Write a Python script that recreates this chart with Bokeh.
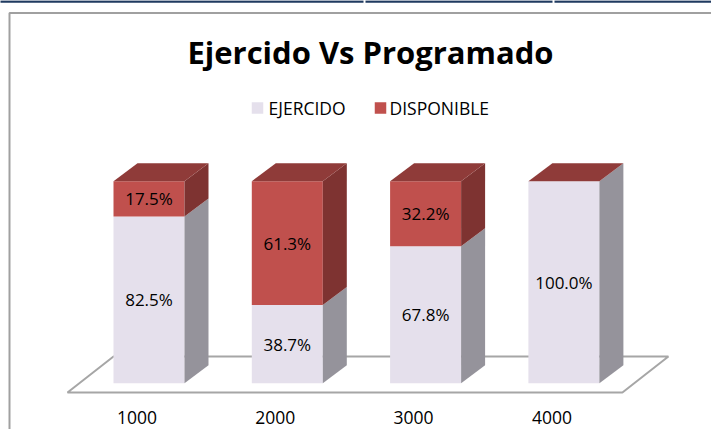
from bokeh.plotting import figure
from bokeh.models import Range1d
from bokeh.core.properties import value
from bokeh.embed import file_html
from bokeh.resources import INLINE

# ---- data ----
categories = ["1000", "2000", "3000", "4000"]
ejercido = [82.5, 38.7, 67.8, 100.0]
disponible = [17.5, 61.3, 32.2, 0.0]
series_names = ["EJERCIDO", "DISPONIBLE"]
title_text = "Ejercido Vs Programado"

# ---- styling / geometry ----
W, H = 711, 429
KX, KY = 138.3, 2.02          # px per category unit, px per percent
X0 = -148.5 / KX              # data x at left canvas edge
Y0 = -(H - 382.7) / KY        # data y at bottom canvas edge
FONT = "Open Sans"

C_EJ_FRONT, C_EJ_SIDE = "#E5E0EC", "#95939B"
C_DI_FRONT, C_DI_SIDE, C_DI_TOP = "#C0504D", "#7E3331", "#8F3B39"

def dx(px):  # canvas px (from left) -> data x
    return X0 + px / KX

def dy(py):  # canvas px (from top) -> data y
    return Y0 + (H - py) / KY

HALF = 35.5 / KX
DEPTH_X, DEPTH_Y = 24 / KX, 18 / KY

p = figure(width=W, height=H, output_backend="svg", toolbar_location=None,
           x_range=Range1d(X0, X0 + W / KX), y_range=Range1d(Y0, Y0 + H / KY),
           min_border=0, background_fill_color="white", border_fill_color="white")
p.axis.visible = False
p.grid.visible = False
p.outline_line_color = None

# page rule segments at top
for (a, b) in [(-5, 363), (365, 552), (554, W + 5)]:
    p.line([dx(a), dx(b)], [dy(1)] * 2, line_color="#1F3A60", line_width=2.5)

# chart border (left and top edges)
p.line([dx(9), dx(9), dx(W + 5)], [dy(H + 5), dy(12.5), dy(12.5)], line_color="#A0A0A0", line_width=2)

# floor
n = len(categories)
fy_front = -9.3 / KY
fy_back = fy_front + 36 / KY
fx_l = -81.5 / KX
fx_r = (n - 1) + 58.5 / KX
fdx = 46 / KX
p.patch([fx_l, fx_r, fx_r + fdx, fx_l + fdx], [fy_front, fy_front, fy_back, fy_back],
        fill_color="white", line_color="#A6A6A6", line_width=2)

# bars
xs_f, ys_f, cols_f = [], [], []
for i in range(n):
    segs = [(0, ejercido[i], C_EJ_FRONT, C_EJ_SIDE),
            (ejercido[i], ejercido[i] + disponible[i], C_DI_FRONT, C_DI_SIDE)]
    l, r = i - HALF, i + HALF
    for (b, t, cf, cs) in segs:
        if t - b <= 0:
            continue
        xs_f.append([l, r, r, l]); ys_f.append([b, b, t, t]); cols_f.append(cf)
        xs_f.append([r, r + DEPTH_X, r + DEPTH_X, r]); ys_f.append([b, b + DEPTH_Y, t + DEPTH_Y, t]); cols_f.append(cs)
    top = ejercido[i] + disponible[i]
    xs_f.append([l, r, r + DEPTH_X, l + DEPTH_X]); ys_f.append([top, top, top + DEPTH_Y, top + DEPTH_Y]); cols_f.append(C_DI_TOP)
p.patches(xs_f, ys_f, fill_color=cols_f, line_color=None)

# data labels
lx, ly, lt = [], [], []
for i in range(n):
    if ejercido[i] > 0:
        lx.append(i); ly.append(ejercido[i] / 2); lt.append(f"{ejercido[i]:.1f}%")
    if disponible[i] > 0:
        lx.append(i); ly.append(ejercido[i] + disponible[i] / 2); lt.append(f"{disponible[i]:.1f}%")
p.text(lx, ly, text=lt, text_align="center", text_baseline="middle",
       text_font=value(FONT), text_font_size="17px", text_color="black")

# category labels
p.text([i - 12 / KX for i in range(n)], [dy(416.5)] * n, text=categories,
       text_align="center", text_baseline="middle",
       text_font=value(FONT), text_font_size="17.5px", text_color="black")

# title
p.text([dx(370)], [dy(51.7)], text=[title_text], text_align="center", text_baseline="middle",
       text_font=value(FONT), text_font_size="31px", text_font_style="bold", text_color="black")

# legend
p.scatter([dx(257), dx(380)], [dy(107.5)] * 2, marker="square", size=11.5,
          fill_color=[C_EJ_FRONT, C_DI_FRONT], line_color=None)
p.text([dx(268), dx(389)], [dy(107.7)] * 2, text=series_names, text_align="left",
       text_baseline="middle", text_font=value(FONT), text_font_size="17.5px", text_color="black")

open("out.html", "w").write(file_html(p, INLINE))
